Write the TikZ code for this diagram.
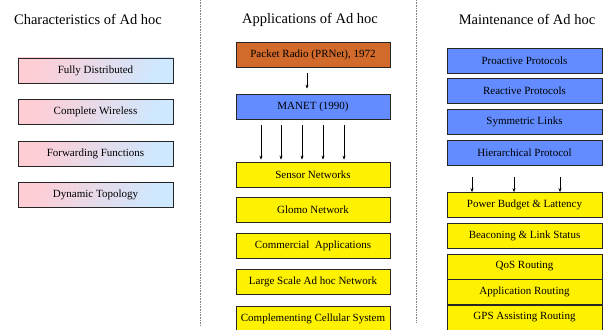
\documentclass[tikz,border=0pt]{standalone}
\usepackage{fontspec}
\setmainfont{Liberation Serif}
\usetikzlibrary{arrows.meta}
\definecolor{pinkish}{RGB}{255,205,212}
\definecolor{skyish}{RGB}{205,232,255}
\definecolor{rust}{RGB}{210,106,44}
\definecolor{manetblue}{RGB}{98,140,255}
\tikzset{
  box/.style={draw=black!85, line width=0.7pt, minimum width=155pt,
    minimum height=25pt, inner sep=0pt, font=\fontsize{11}{13}\selectfont},
  charbox/.style={box, left color=pinkish, right color=skyish, shading angle=70},
  appbox/.style={box, fill=yellow, minimum width=154pt},
  protobox/.style={box, fill=manetblue},
  heading/.style={font=\fontsize{14.5}{17}\selectfont},
  arr/.style={-{Stealth[length=4pt,width=3pt]}, line width=0.5pt},
  divider/.style={densely dotted, gray, line width=0.6pt}
}
\begin{document}
\begin{tikzpicture}[x=1pt,y=-1pt]
        \useasboundingbox (0,0) rectangle (615,329);
        % column dividers
        \draw[divider] (200,0) -- (200,326);
        \draw[divider] (416,0) -- (416,322);
        % characteristics
        \node[heading] (chartitle) at (88,19) {Characteristics of Ad hoc};
        \node[charbox] (distrib) at (95.5,70.5) {Fully Distributed};
        \node[charbox] (wireless) at (95.5,112) {Complete Wireless};
        \node[charbox] (forward) at (95.5,153.5) {Forwarding Functions};
        \node[charbox] (topology) at (95.5,194.5) {Dynamic Topology};
        % applications
        \node[heading] (apptitle) at (310,20) {Applications of Ad hoc};
        \node[box, fill=rust, minimum width=154pt] (prnet) at (313,55) {Packet Radio (PRNet), 1972};
        \node[box, fill=manetblue, minimum width=154pt] (manet) at (313,106.5) {MANET (1990)};
        \node[appbox] (sensor) at (313,174.5) {Sensor Networks};
        \node[appbox] (glomo) at (313,210) {Glomo Network};
        \node[appbox] (commercial) at (313,246) {Commercial~ Applications};
        \node[appbox] (largescale) at (313,282) {Large Scale Ad hoc Network};
        \node[appbox] (cellular) at (313,318.5) {Complementing Cellular System};
        \draw[arr, shorten <=5pt, shorten >=5pt] (prnet.south -| 307,0) -- (manet.north -| 307,0);
        \foreach \x in {261,281,302,323,344}
            \draw[arr, shorten <=6pt, shorten >=2pt] (manet.south -| \x,0) -- (sensor.north -| \x,0);
        % maintenance
        \node[heading] (maintitle) at (527,19) {Maintenance of Ad hoc};
        \node[protobox] (proactive) at (524.5,60.5) {Proactive Protocols};
        \node[protobox] (reactive) at (524.5,91) {Reactive Protocols};
        \node[protobox] (symmetric) at (524.5,122) {Symmetric Links};
        \node[protobox] (hierarch) at (524.5,153) {Hierarchical Protocol};
        \node[appbox, minimum width=155pt] (power) at (524.5,205) {Power Budget \& Lattency};
        \node[appbox, minimum width=155pt] (beacon) at (524.5,236) {Beaconing \& Link Status};
        \node[appbox, minimum width=155pt] (qos) at (524.5,266.5) {QoS Routing};
        \node[appbox, minimum width=155pt] (approuting) at (524.5,292) {Application Routing};
        \node[appbox, minimum width=155pt] (gps) at (524.5,317.5) {GPS Assisting Routing};
        \foreach \x in {472,514,560}
            \draw[arr, shorten <=11pt] (hierarch.south -| \x,0) -- (power.north -| \x,0);
\end{tikzpicture}
\end{document}
